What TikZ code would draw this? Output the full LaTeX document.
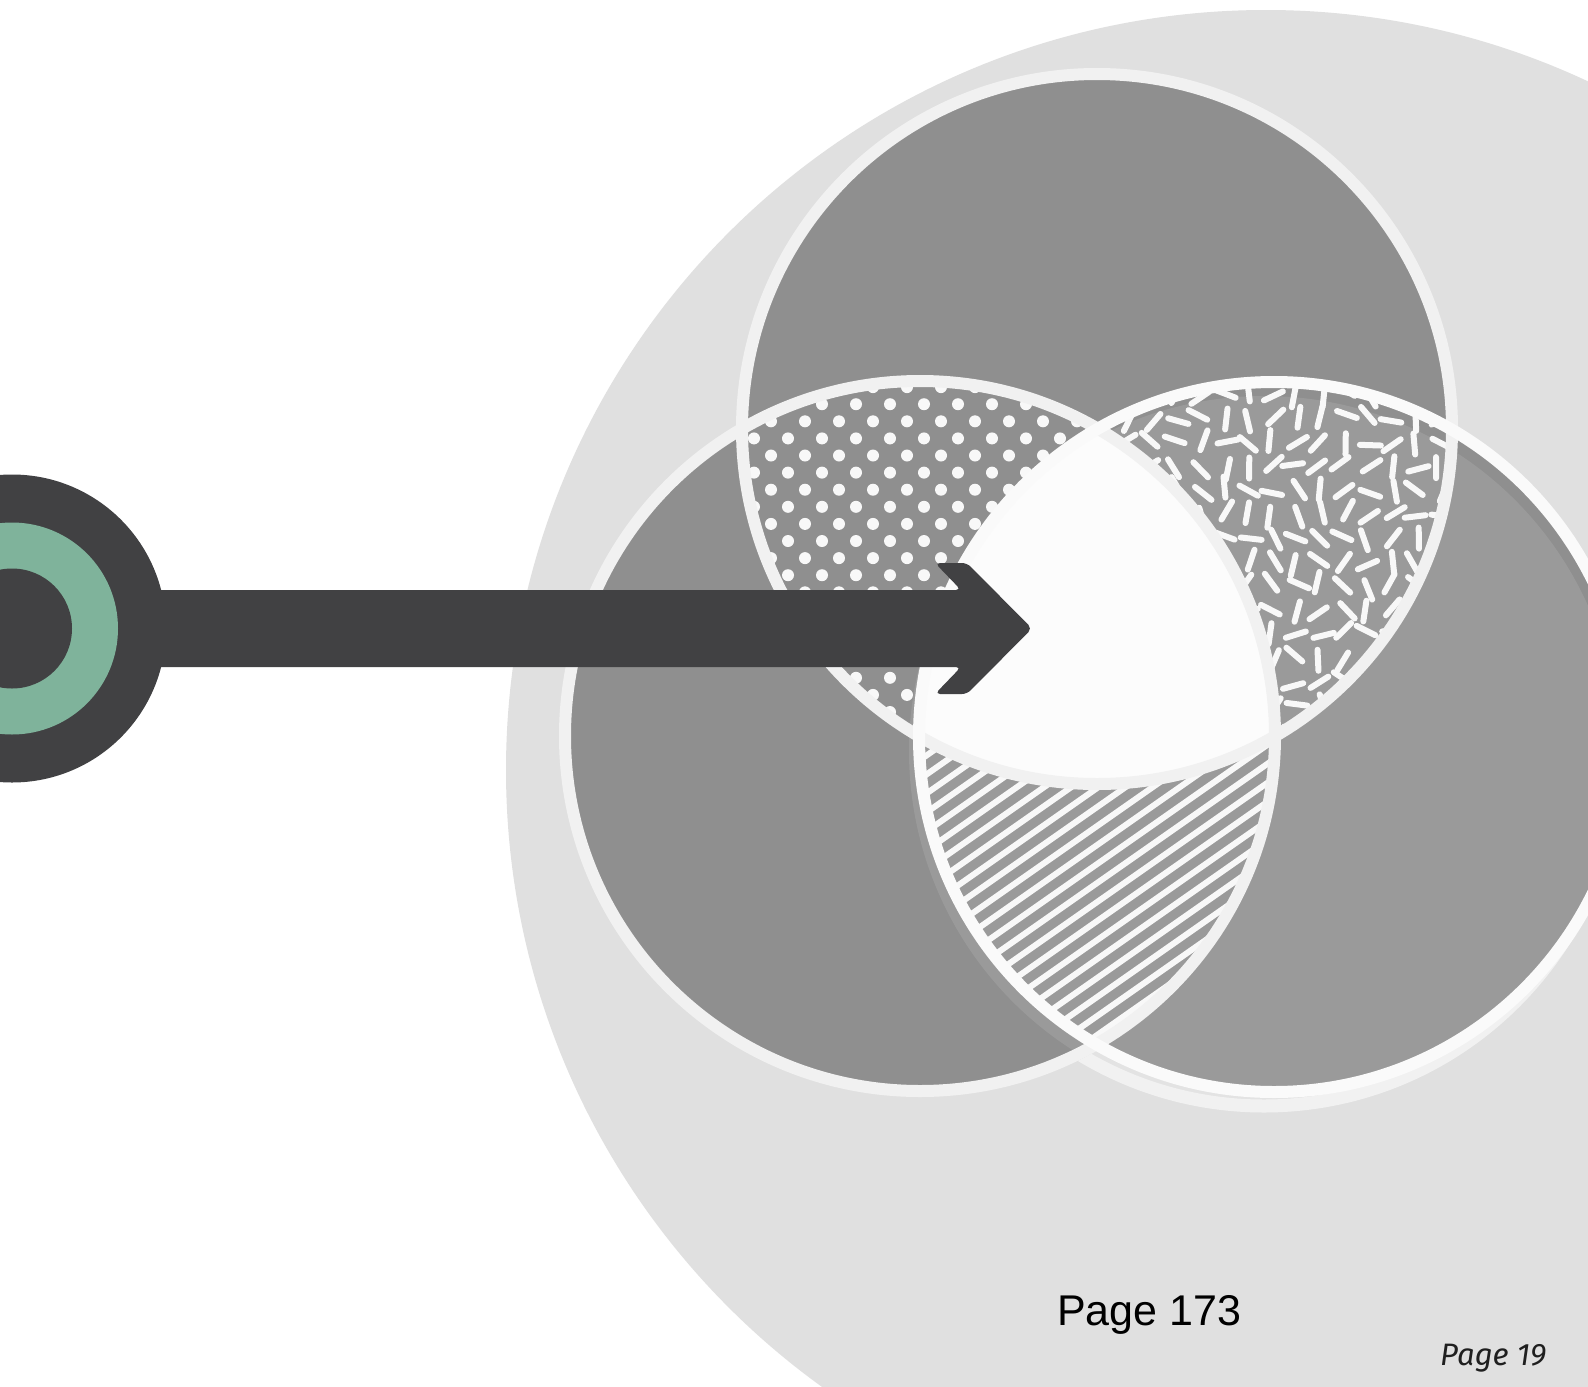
\documentclass[tikz,border=0pt]{standalone}
\usepackage{fontspec}
\setmainfont{Liberation Sans}
\newfontfamily\pagefont{Fira Sans}
\definecolor{bggray}{HTML}{E0E0E0}
\definecolor{fillgray}{HTML}{8F8F8F}
\definecolor{ringgray}{HTML}{F1F1F1}
\definecolor{ringwhite}{HTML}{FAFAFA}
\definecolor{patwhite}{HTML}{F8F8F8}
\definecolor{centerwhite}{HTML}{FCFCFC}
\definecolor{darkc}{HTML}{414143}
\definecolor{greenc}{HTML}{7FB39B}
\begin{document}
\begin{tikzpicture}[x=1pt,y=-1pt,
  ringstyle/.style={draw=ringgray, line width=12pt},
  dotstyle/.style={fill=patwhite},
  dashstyle/.style={draw=patwhite, line width=6pt, line cap=round},
  stripestyle/.style={draw=patwhite, line width=6pt},
  txt/.style={inner sep=0pt, text=black}]
\useasboundingbox (0,0) rectangle (1588,1387);
\clip (0,0) rectangle (1588,1387);
\fill[white] (0,0) rectangle (1588,1387);
% background disc
\fill[bggray] (1266,770) circle (760);
% centres
\coordinate (T) at (1097,429);
\coordinate (L) at (920,736);
\coordinate (R) at (1274,737);
\coordinate (B) at (1264,751);
% fills
\fill[fillgray] (T) circle (355);
\fill[fillgray] (L) circle (355);
\fill[fillgray] (R) circle (355);
% dots: top & left minus right
\begin{scope}[even odd rule]
  \clip (T) circle (355);
  \clip (L) circle (355);
  \clip (R) circle (355) (-100,-100) rectangle (1700,1500);
  \foreach \k in {0,...,22} {
    \pgfmathsetmacro\yy{370+17.1*\k}
    \pgfmathsetmacro\off{mod(\k,2)*17}
    \foreach \m in {0,...,12} {
      \fill[dotstyle] (720+\off+34*\m,\yy) circle (6);
    }
  }
\end{scope}
% dashes: top & right minus left
\begin{scope}[even odd rule]
  \clip (T) circle (355);
  \clip (R) circle (355);
  \clip (L) circle (355) (-100,-100) rectangle (1700,1500);
  \pgfmathsetseed{17}
  \foreach \i in {0,...,15} {
    \foreach \j in {0,...,15} {
      \pgfmathsetmacro\px{1080+24*\i+4*rand}
      \pgfmathsetmacro\py{370+24*\j+4*rand}
      \pgfmathsetmacro\an{180*rnd}
      \draw[dashstyle, shift={(\px,\py)}, rotate=\an] (-10.5,0) -- (10.5,0);
    }
  }
\end{scope}
% stripes: left & right minus top
\begin{scope}[even odd rule]
  \clip (L) circle (355);
  \clip (R) circle (355);
  \clip (T) circle (355) (-100,-100) rectangle (1700,1500);
  \foreach \k in {0,...,36} {
    \draw[stripestyle] (870,{700+19*\k}) -- (1310,{700+19*\k-308});
  }
\end{scope}
% centre
\begin{scope}
  \clip (T) circle (355);
  \clip (L) circle (355);
  \fill[centerwhite] (R) circle (355);
\end{scope}
% light overlay of the right circle
\fill[white, opacity=0.1] (B) circle (355);
\begin{scope}[even odd rule]
  \clip (R) circle (356) (-100,-100) rectangle (1700,1500);
  \clip (L) circle (361) (-100,-100) rectangle (1700,1500);
  \draw[draw=ringgray, line width=13pt] (B) circle (355);
\end{scope}
% rings
\draw[ringstyle] (T) circle (355);
\draw[ringstyle] (L) circle (355);
\draw[ringstyle, draw=ringwhite] (R) circle (355);
% target and arrow
\fill[darkc, rounded corners=5pt] (100,590) -- (961,590) -- (935,563) -- (967,563) -- (1032,628.5) -- (967,694) -- (935,694) -- (961,667) -- (100,667) -- cycle;
\fill[darkc] (12,628.5) circle (154);
\fill[greenc] (12,628.5) circle (106);
\fill[darkc] (12,628.5) circle (60);
% texts
\node[txt, anchor=base west, font=\fontsize{43}{50}\selectfont] (p173) at (1057,1325) {Page 173};
\node[txt, anchor=base west, font=\pagefont\itshape\fontsize{31}{37}\selectfont, text=black!88] (p19) at (1440,1365) {Page 19};
\end{tikzpicture}
\end{document}
